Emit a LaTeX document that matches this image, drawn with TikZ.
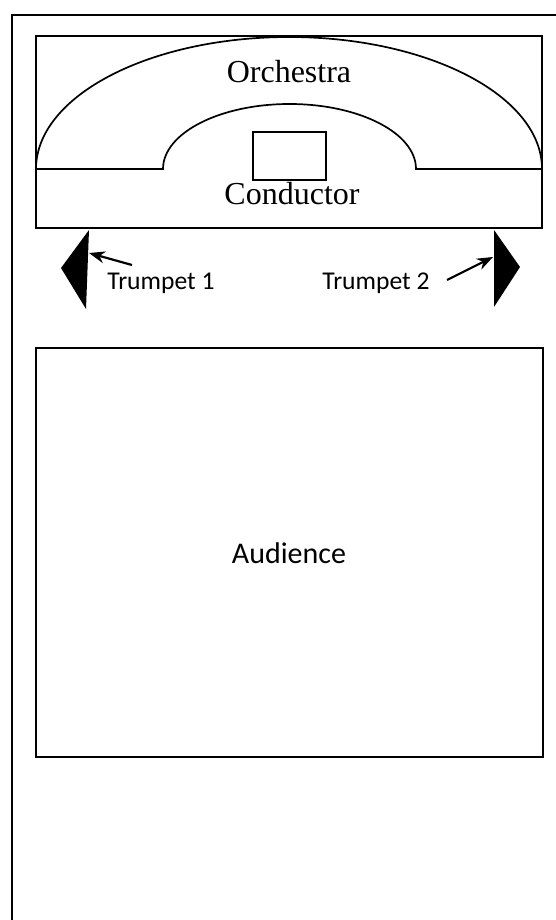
\documentclass[tikz,border=0pt]{standalone}
\usepackage{fontspec}
\setmainfont{Liberation Serif}
\newfontfamily\calib{Carlito}
\usetikzlibrary{arrows.meta}
\begin{document}
\begin{tikzpicture}[x=0.5pt,y=-0.5pt,
  frame/.style={draw=black,line width=1.1pt},
  arcline/.style={draw=black,line width=0.85pt},
  serifl/.style={font=\fontsize{16}{18}\selectfont,inner sep=0pt},
  sansl/.style={font=\calib\fontsize{12.8}{15}\selectfont,inner sep=0pt},
  audl/.style={font=\calib\fontsize{15}{18}\selectfont,inner sep=0pt},
  ptr/.style={draw=black,line width=1.1pt,-{Stealth[length=8pt,width=6pt]}},
  horn/.style={fill=black}]
\useasboundingbox (0,0) rectangle (556,920);
\fill[white] (0,0) rectangle (556,920);
\clip (0,0) rectangle (556,920);
% outer frame (partly off the picture)
\draw[frame] (12,15) rectangle (600,980);
% stage
\draw[frame] (36,36) rectangle (542,228);
% orchestra outline
\draw[arcline] (36,169) arc[start angle=180,end angle=360,x radius=253,y radius=132]
  -- (416,169) arc[start angle=0,end angle=-180,x radius=126.5,y radius=65] -- cycle;
% conductor podium
\node[draw=black,line width=0.85pt,minimum width=36.5pt,minimum height=24pt,inner sep=0pt] (podium) at (289.5,156) {};
\node[serifl] (orch) at (289,72) {Orchestra};
\node[serifl] (cond) at (292,194) {Conductor};
% trumpets
\fill[horn] (89,230) -- (61,268) -- (86,309) -- cycle;
\fill[horn] (494,230) -- (520,267) -- (494,307) -- cycle;
\coordinate (t1) at (89,253);
\coordinate (t2) at (493,257);
\node[sansl,anchor=west] (tr1) at (107,283) {Trumpet 1};
\node[sansl,anchor=west] (tr2) at (322,283) {Trumpet 2};
\coordinate (a1) at (132,265);
\coordinate (a2) at (447,280);
\draw[ptr] (a1) -- (t1);
\draw[ptr] (a2) -- (t2);
% audience
\draw[frame] (36,348) rectangle (543,757);
\node[audl] (aud) at (289,553) {Audience};
\end{tikzpicture}
\end{document}
